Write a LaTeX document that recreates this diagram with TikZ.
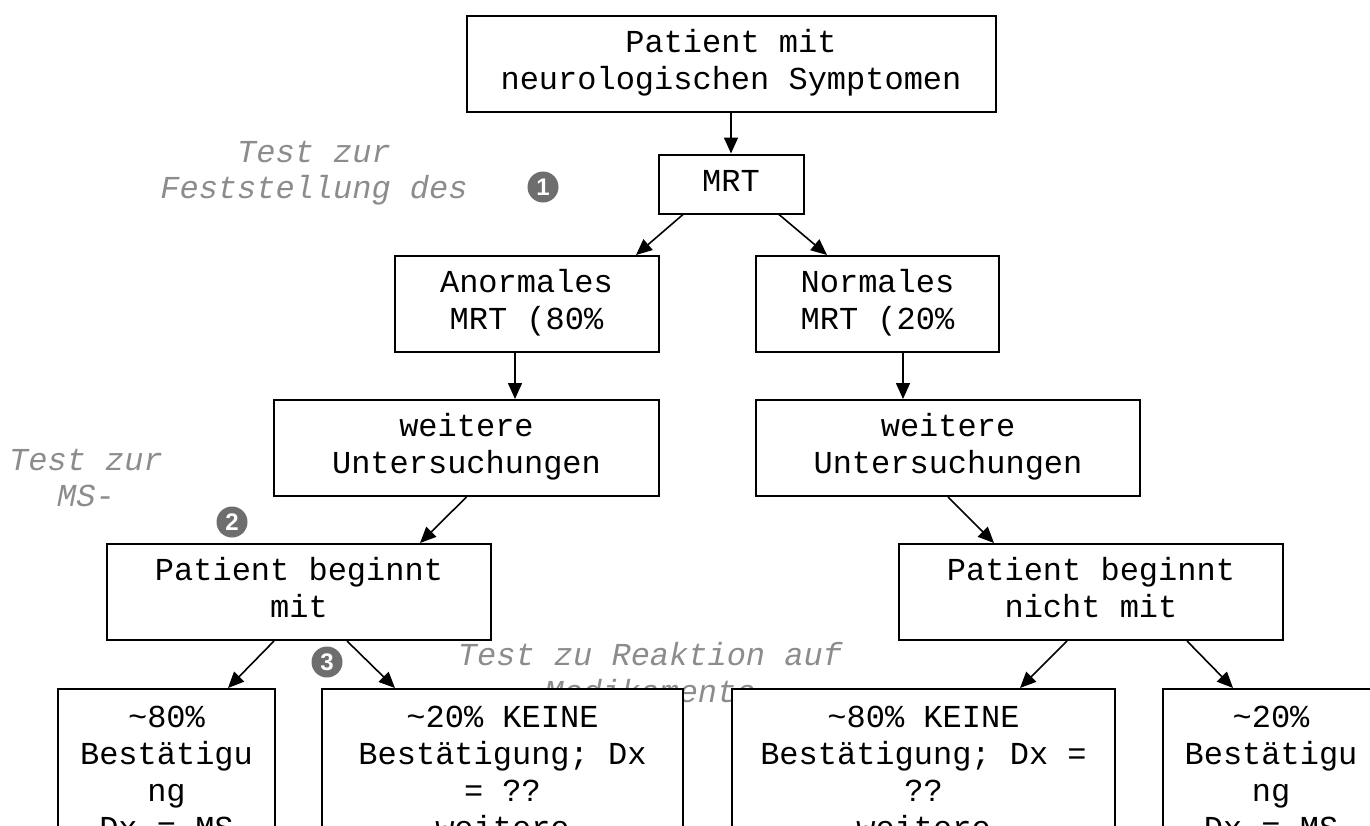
\documentclass[tikz,border=0pt]{standalone}
\usepackage{fontspec}
\setmonofont{Liberation Mono}
\setsansfont{Liberation Sans}
\usetikzlibrary{arrows.meta}
\definecolor{lblgray}{HTML}{8C8C8C}
\definecolor{numgray}{HTML}{6E6E6E}
\tikzset{
  box/.style={draw=black, line width=2pt, fill=white, inner xsep=0pt, inner ysep=11pt,
    align=center, font=\ttfamily\fontsize{32}{37}\selectfont},
  bbox/.style={box, anchor=north, inner ysep=13pt},
  conn/.style={line width=1.6pt, -{Triangle[length=16pt,width=14pt]}},
  lbl/.style={text=lblgray, align=center, inner sep=0pt, anchor=north,
    font=\ttfamily\itshape\fontsize{32}{36.5}\selectfont},
  num/.style={circle, fill=numgray, text=white, inner sep=0pt, minimum size=31pt,
    font=\sffamily\bfseries\fontsize{24}{24}\selectfont},
}
\begin{document}
\begin{tikzpicture}[x=1pt,y=-1pt]
\useasboundingbox (0,0) rectangle (1370,825);
\clip (0,0) rectangle (1370,825);
% gray labels
\node[lbl] (lab1) at (314,136.5) {\strut Test zur\\Feststellung des\strut};
\node[lbl] (lab2) at (86,444.5) {\strut Test zur\\MS-\strut};
\node[lbl] (lab3) at (650,640) {\strut Test zu Reaktion auf\\Medikamente\strut};
% boxes
\node[box, minimum width=529pt, minimum height=96pt] (top) at (731,64) {\strut Patient mit\\neurologischen Symptomen\strut};
\node[box, minimum width=145pt, minimum height=48pt] (mrt) at (731,184) {\strut MRT};
\node[box, minimum width=264pt, minimum height=96pt] (anorm) at (526.5,304) {\strut Anormales\\MRT (80\%\strut};
\node[box, minimum width=243pt, minimum height=96pt] (norm) at (877.5,304) {\strut Normales\\MRT (20\%\strut};
\node[box, minimum width=385pt, minimum height=96pt] (weitL) at (466.5,448) {\strut weitere\\Untersuchungen\strut};
\node[box, minimum width=384pt, minimum height=96pt] (weitR) at (948,448) {\strut weitere\\Untersuchungen\strut};
\node[box, minimum width=384pt, minimum height=96pt] (patL) at (299,592) {\strut Patient beginnt\\mit\strut};
\node[box, minimum width=384pt, minimum height=96pt] (patR) at (1091,592) {\strut Patient beginnt\\nicht mit\strut};
\node[bbox, minimum width=217pt] (b1) at (166.5,688) {\strut\textasciitilde80\%\\Bestätigu\\ng\\Dx = MS\strut};
\node[bbox, minimum width=361pt] (b2) at (502.5,688) {\strut\textasciitilde20\% KEINE\\Bestätigung; Dx\\= ??\\weitere\strut};
\node[bbox, minimum width=383pt] (b3) at (923.5,688) {\strut\textasciitilde80\% KEINE\\Bestätigung; Dx =\\??\\weitere\strut};
\node[bbox, minimum width=216pt] (b4) at (1271,688) {\strut\textasciitilde20\%\\Bestätigu\\ng\\Dx = MS\strut};
% numbers
\node[num] (n1) at (543,187) {1};
\node[num] (n2) at (232,522) {2};
\node[num] (n3) at (327,662) {3};
% connectors
\draw[conn] (top.south) -- (mrt.north);
\draw[conn] (mrt.south -| 683,0) -- (anorm.north -| 636,0);
\draw[conn] (mrt.south -| 779,0) -- (norm.north -| 827,0);
\draw[conn] (anorm.south -| 515,0) -- (weitL.north -| 515,0);
\draw[conn] (norm.south -| 903,0) -- (weitR.north -| 903,0);
\draw[conn] (weitL.south) -- (patL.north -| 420,0);
\draw[conn] (weitR.south) -- (patR.north -| 994,0);
\draw[conn] (patL.south -| 274,0) -- (b1.north -| 228,0);
\draw[conn] (patL.south -| 347,0) -- (b2.north -| 395,0);
\draw[conn] (patR.south -| 1067,0) -- (b3.north -| 1020,0);
\draw[conn] (patR.south -| 1187,0) -- (b4.north -| 1233,0);
\end{tikzpicture}
\end{document}
